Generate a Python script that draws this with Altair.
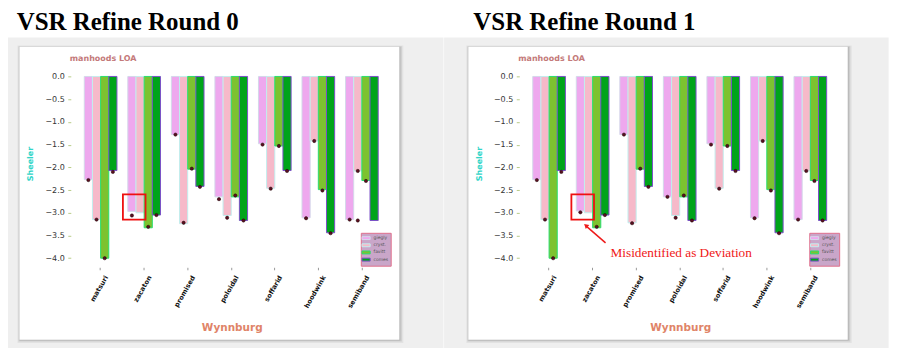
import altair as alt
import pandas as pd

categories = ["matsuri", "zacaton", "promised", "poloidal", "soffarid", "hoodwink", "semiband"]
series = ["giegly", "cryst.", "favitt", "comes"]
fill_colors = ["#eea8ee", "#f6b9c9", "#7dc230", "#00a41a"]
edge_colors = ["#d4d8ea", "#c2eeee", "#2ade6e", "#7a50c8"]
y_ticks = [0.0, -0.5, -1.0, -1.5, -2.0, -2.5, -3.0, -3.5, -4.0]

# Round 0 bars
giegly_r0 = [-2.27, -2.97, -1.28, -2.65, -1.48, -3.11, -3.15]
cryst_r0 = [-3.15, -3.00, -3.24, -3.06, -2.46, -1.42, -2.08]
favitt_r0 = [-4.00, -3.33, -2.04, -2.65, -1.53, -2.49, -2.29]
comes_r0 = [-2.07, -3.05, -2.42, -3.17, -2.07, -3.44, -3.17]
# Round 0 detected points
giegly_pts0 = [-2.28, -3.06, -1.28, -2.70, -1.50, -3.12, -3.15]
cryst_pts0 = [-3.15, None, -3.22, -3.11, -2.47, -1.42, -2.08]
favitt_pts0 = [-4.00, -3.31, -2.03, -2.62, -1.53, -2.51, -2.30]
comes_pts0 = [-2.10, -3.05, -2.43, -3.17, -2.08, -3.45, None]
extra_pts0 = [("semiband", "cryst.", -3.17)]

# Round 1 bars
giegly_r1 = [-2.27, -2.96, -1.28, -2.65, -1.48, -3.11, -3.15]
cryst_r1 = [-3.15, -3.00, -3.22, -3.06, -2.46, -1.42, -2.08]
favitt_r1 = [-4.00, -3.33, -2.04, -2.65, -1.53, -2.49, -2.29]
comes_r1 = [-2.07, -3.05, -2.42, -3.17, -2.07, -3.44, -3.17]
# Round 1 detected points
giegly_pts1 = [-2.28, -2.99, -1.28, -2.65, -1.50, -3.12, -3.15]
cryst_pts1 = [-3.15, None, -3.23, -3.11, -2.47, -1.42, -2.08]
favitt_pts1 = [-4.00, -3.31, -2.03, -2.62, -1.53, -2.51, -2.30]
comes_pts1 = [-2.10, -3.05, -2.43, -3.17, -2.08, -3.45, -3.17]
extra_pts1 = []


def bars_df(cols):
    rows = []
    for s, vals in zip(series, cols):
        for c, v in zip(categories, vals):
            rows.append({"cat": c, "series": s, "value": v})
    return pd.DataFrame(rows)


def pts_df(cols, extra):
    rows = []
    for s, vals in zip(series, cols):
        for c, v in zip(categories, vals):
            if v is not None:
                rows.append({"cat": c, "series": s, "value": v})
    for c, s, v in extra:
        rows.append({"cat": c, "series": s, "value": v})
    return pd.DataFrame(rows)


one = pd.DataFrame({"a": [0]})


def rect(x, x2, y, y2, **kw):
    return alt.Chart(one).mark_rect(**kw).encode(
        x=alt.value(x), x2=alt.value(x2), y=alt.value(y), y2=alt.value(y2))


def txt(text, x, y, **kw):
    return alt.Chart(one).mark_text(text=text, **kw).encode(x=alt.value(x), y=alt.value(y))


W, H = 322, 200.6

x_axis = alt.Axis(title=None, labelAngle=300, labelAlign="right", labelBaseline="middle",
                  labelFont="DejaVu Sans", labelFontWeight="bold", labelFontSize=6.7,
                  labelColor="#111111", labelOffset=6, labelPadding=6, tickSize=2.5,
                  tickColor="#999999", domain=False, grid=False, zindex=1, labelOverlap=False)
y_axis = alt.Axis(title=None, values=y_ticks, format=".1f", labelFont="DejaVu Sans",
                  labelFontSize=8, labelColor="#333333", tickSize=3, tickColor="#b8cc88",
                  labelPadding=3.5, domain=False, grid=False, zindex=1, labelOverlap=False,
                  labelFlush=False, tickCount=9)
x_scale = alt.Scale(domain=categories, paddingInner=0.25, paddingOuter=0.31)
y_scale = alt.Scale(domain=[-4.2, 0.2], nice=False, zero=False)
xoff_scale = alt.Scale(domain=series, paddingInner=0, paddingOuter=0)


def x_enc():
    return alt.X("cat:N", sort=categories, scale=x_scale, axis=x_axis)


def xoff_enc():
    return alt.XOffset("series:N", sort=series, scale=xoff_scale)


def y_enc():
    return alt.Y("value:Q", scale=y_scale, axis=y_axis)


legend_cfg = alt.Legend(title=None, orient="bottom-right", offset=1.5, fillColor="#c9a6c9",
                        strokeColor="#e0708c", padding=1.8, labelFontSize=4.5, labelColor="#555555",
                        labelFont="DejaVu Sans", symbolType="M-1.4,-0.5H1.4V0.5H-1.4Z",
                        symbolSize=34, symbolStrokeWidth=1, rowPadding=0.2, labelOffset=4,
                        zindex=1)


def panel(bars, pts, title, grey_l, grey_r, card_l, card_r, title_x, annotated):
    layers = [
        rect(grey_l, grey_r, -29.9, 281.7, fill="#efefef"),
        rect(card_l - 2, card_r + 4, -22, 276.5, fill="#000000", opacity=0.05),
        rect(card_l - 1, card_r + 2.5, -21.3, 275, fill="#000000", opacity=0.09),
        rect(card_l, card_r + 1, -20.6, 274, fill="#000000", opacity=0.12),
        rect(card_l, card_r, -20.6, 273.4, fill="#ffffff"),
        rect(grey_l, grey_l + 1, -58.6, -58, fill="#ffffff"),
        txt(title, title_x, -37.6, align="left", baseline="alphabetic", font="Liberation Serif",
            fontWeight="bold", fontSize=25, color="#000000"),
        txt("manhoods LOA", -1, -6.6, align="left", baseline="alphabetic", font="DejaVu Sans",
            fontWeight="bold", fontSize=8, color="#c47a7a"),
        txt("Sheeler", -39.8, 97, align="center", baseline="middle", angle=270,
            font="DejaVu Sans", fontWeight="bold", fontSize=8, color="#30d5c8"),
        txt("Wynnburg", 162, 264.1, align="center", baseline="alphabetic", font="DejaVu Sans",
            fontWeight="bold", fontSize=10.5, color="#e08468"),
        alt.Chart(bars).mark_bar(strokeWidth=1).encode(
            x=x_enc(), xOffset=xoff_enc(), y=y_enc(),
            fill=alt.Fill("series:N", sort=series,
                          scale=alt.Scale(domain=series, range=fill_colors), legend=legend_cfg),
            stroke=alt.Stroke("series:N", sort=series,
                              scale=alt.Scale(domain=series, range=edge_colors), legend=legend_cfg),
        ),
        alt.Chart(pts).mark_circle(size=11, color="#5b0f1f", stroke="#1a0005", strokeWidth=0.5,
                                   opacity=1).encode(
            x=x_enc(), xOffset=xoff_enc(), y=y_enc()),
        rect(52.3, 75, 127.4, 152.7, fill=None, stroke="#ee1111", strokeWidth=1.8, filled=False),
    ]
    if annotated:
        layers += [
            alt.Chart(one).mark_rule(color="#ee1a1a", strokeWidth=1.5).encode(
                x=alt.value(86.6), x2=alt.value(67.5), y=alt.value(176.1), y2=alt.value(159.5)),
            alt.Chart(one).mark_point(shape="triangle-up", filled=True, size=28, angle=312,
                                      color="#ee1a1a", opacity=1).encode(
                x=alt.value(66.8), y=alt.value(158.7)),
            txt("Misidentified as Deviation", 91.6, 190.7, align="left", baseline="alphabetic",
                font="Liberation Serif", fontSize=13.3, color="#f01818"),
        ]
    return alt.layer(*layers).properties(width=W, height=H)


left = panel(bars_df([giegly_r0, cryst_r0, favitt_r0, comes_r0]),
             pts_df([giegly_pts0, cryst_pts0, favitt_pts0, comes_pts0], extra_pts0),
             "VSR Refine Round 0", -63, 374, -51.5, 329.7, -54.3, False)
right = panel(bars_df([giegly_r1, cryst_r1, favitt_r1, comes_r1]),
              pts_df([giegly_pts1, cryst_pts1, favitt_pts1, comes_pts1], extra_pts1),
              "VSR Refine Round 1", -75.4, 370.6, -51.1, 329.6, -46.1, True)

chart = alt.hconcat(left, right, spacing=0, padding=0, background="white").resolve_scale(
    x="independent", y="independent", xOffset="independent", fill="independent",
    stroke="independent").resolve_legend(fill="independent", stroke="independent").configure_view(
    stroke=None)

chart.save("out.html", embed_options={"renderer": "svg", "actions": False})
